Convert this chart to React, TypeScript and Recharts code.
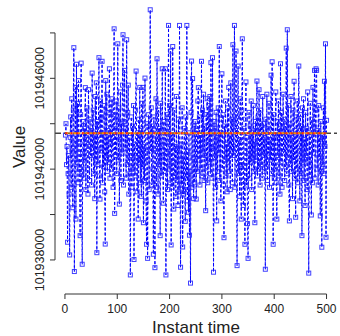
import { LineChart, Line, XAxis, YAxis, ReferenceLine } from 'recharts'

// values, instants 1..500
const values1 = [
  101943500, 101944000, 101942200, 101943000, 101938780, 101941800, 101942600, 101940900, 101938220, 101943400,
  101944300, 101941200, 101945100, 101942800, 101940300, 101944600, 101947350, 101937490, 101943100, 101945600,
  101939800, 101946620, 101942300, 101944900, 101941400, 101945900, 101943200, 101942000, 101939070, 101944400,
  101946670, 101941900, 101937810, 101942700, 101944100, 101941600, 101943800, 101942400, 101945590, 101941100,
  101943300, 101944700, 101942000, 101940900, 101945500, 101943000, 101941500, 101944200, 101942600, 101943700,
  101941300, 101946230, 101942900, 101944600, 101941800, 101943500, 101940700, 101945200, 101942400, 101945800,
  101938320, 101944100, 101942200, 101943900, 101946910, 101941700, 101940680, 101945000, 101942800, 101944300,
  101946750, 101941400, 101943600, 101942100, 101944800, 101941000, 101938700, 101945900, 101942500, 101945300,
  101941900, 101943700, 101942300, 101944500, 101946420, 101941600, 101943200, 101944900, 101942000, 101945100,
  101943400, 101941200, 101944400, 101948180, 101940050, 101943800, 101942600, 101945000, 101941800, 101944200,
]
const values2 = [
  101947520, 101942400, 101944700, 101940460, 101943300, 101945400, 101941500, 101944000, 101942700, 101945700,
  101947920, 101941300, 101944100, 101946350, 101942900, 101943800, 101941600, 101947700, 101942200, 101944500,
  101945700, 101940900, 101943400, 101941800, 101937340, 101942600, 101944300, 101941200, 101943900, 101942000,
  101944800, 101938020, 101943100, 101941700, 101944600, 101946320, 101942500, 101941000, 101943600, 101939800,
  101944200, 101942300, 101945600, 101941400, 101943700, 101940800, 101944900, 101942100, 101945600, 101939640,
  101943000, 101941500, 101946010, 101942700, 101940600, 101938690, 101944000, 101938070, 101942400, 101944400,
  101941100, 101943500, 101949020, 101942800, 101944700, 101941300, 101943900, 101942000, 101938250, 101944300,
  101941600, 101937660, 101942900, 101945100, 101941200, 101946860, 101943300, 101940900, 101944600, 101942200,
  101943800, 101939070, 101944900, 101941700, 101943100, 101946420, 101942500, 101940500, 101944100, 101941900,
  101943600, 101946420, 101937340, 101942700, 101944400, 101941100, 101943200, 101948330, 101942000, 101944800,
]
const values3 = [
  101941400, 101947200, 101938660, 101943500, 101941200, 101947400, 101942300, 101940240, 101944600, 101941700,
  101943000, 101940800, 101945200, 101941500, 101942900, 101940400, 101944200, 101941000, 101948330, 101942400,
  101937680, 101943100, 101941300, 101944700, 101938570, 101942600, 101940900, 101943800, 101941100, 101939700,
  101944300, 101941600, 101948330, 101940600, 101942800, 101940100, 101943600, 101939090, 101941900, 101936980,
  101944500, 101946760, 101941200, 101945990, 101942500, 101940700, 101943900, 101941400, 101944100, 101942200,
  101940680, 101943700, 101941900, 101945000, 101945590, 101942400, 101944300, 101941300, 101943500, 101942000,
  101946750, 101941700, 101944600, 101942800, 101945300, 101941500, 101943900, 101942600, 101940170, 101944400,
  101942100, 101945100, 101941400, 101943200, 101944800, 101942300, 101945200, 101941800, 101946690, 101943000,
  101941600, 101946910, 101942900, 101937460, 101944100, 101942500, 101943800, 101941200, 101944500, 101939720,
  101943400, 101941900, 101944700, 101942700, 101947400, 101941500, 101943600, 101940600, 101944200, 101946200,
]
const values4 = [
  101942000, 101944400, 101941300, 101938980, 101943900, 101942400, 101945000, 101941700, 101943100, 101941000,
  101944700, 101942300, 101945600, 101941900, 101943500, 101941100, 101945800, 101942800, 101944200, 101941400,
  101947480, 101942600, 101944000, 101948330, 101941200, 101943700, 101947200, 101942900, 101937750, 101944300,
  101946540, 101941800, 101943300, 101940800, 101945100, 101942200, 101939800, 101944600, 101947740, 101941500,
  101940400, 101943800, 101942100, 101938690, 101944200, 101945840, 101941300, 101943400, 101939600, 101938070,
  101942700, 101944500, 101941600, 101943900, 101942300, 101945000, 101941100, 101943600, 101942500, 101944800,
  101941900, 101943200, 101939640, 101944100, 101942400, 101943700, 101945880, 101941700, 101944300, 101942000,
  101945500, 101942800, 101941300, 101944600, 101942200, 101943900, 101941600, 101945200, 101942600, 101944000,
  101941900, 101943400, 101937590, 101944200, 101942100, 101945300, 101941500, 101943800, 101942700, 101944900,
  101941200, 101943300, 101942400, 101946140, 101941800, 101946730, 101942900, 101938690, 101944400, 101941600,
]
const values5 = [
  101943500, 101942000, 101945400, 101941400, 101939800, 101944100, 101942600, 101945000, 101941700, 101943800,
  101940900, 101946640, 101942300, 101944500, 101941200, 101943600, 101945300, 101942700, 101944200, 101941500,
  101943900, 101942100, 101947330, 101941800, 101948140, 101942500, 101944800, 101941300, 101939720, 101944000,
  101942200, 101945200, 101941900, 101943400, 101940700, 101944600, 101942400, 101945870, 101941600, 101943700,
  101939880, 101944300, 101942000, 101945000, 101941400, 101943500, 101946540, 101942800, 101940600, 101944400,
  101941800, 101943900, 101939070, 101944700, 101942300, 101945100, 101941500, 101943300, 101940400, 101944500,
  101942600, 101943800, 101941100, 101945400, 101942400, 101937420, 101943600, 101941700, 101944900, 101942100,
  101939980, 101944200, 101941400, 101945600, 101942700, 101943900, 101946350, 101941600, 101944600, 101946420,
  101946350, 101942000, 101943700, 101941300, 101944800, 101942500, 101943400, 101939940, 101944100, 101941900,
  101938560, 101943500, 101942200, 101944700, 101941800, 101945870, 101943000, 101947520, 101939000, 101944150,
]

const meanLevel = 101943580
const xTicks = [0, 100, 200, 300, 400, 500]
const yTicks = [101938000, 101940000, 101942000, 101944000, 101946000, 101948000]
const yLabelled = [101938000, 101942000, 101946000]

const data = [...values1, ...values2, ...values3, ...values4, ...values5].map((v, i) => ({
  t: i + 1,
  value: v,
  mean: meanLevel,
}))

const font = '"Liberation Sans", Arial, sans-serif'
const Y_MIN = 101936500
const Y_MAX = 101949450
const X_DOMAIN: [number, number] = [-19, 520]

const SquareDot = (props: any) => {
  const { cx, cy, index } = props
  if (cx == null || cy == null) return null
  return (
    <rect
      key={`d${index}`}
      x={cx - 2}
      y={cy - 2}
      width={4}
      height={4}
      fill="none"
      stroke="#2020ff"
      strokeOpacity={0.85}
      strokeWidth={1}
    />
  )
}

const YTick = (props: any) => {
  const { x, y, payload } = props
  if (!yLabelled.includes(payload.value)) return null
  const bx = x - 3.5
  return (
    <text
      x={bx}
      y={y}
      transform={`rotate(-90 ${bx} ${y})`}
      textAnchor="middle"
      fontSize={12.5}
      fill="#222"
      fontFamily={font}
    >
      {payload.value}
    </text>
  )
}

export default function App() {
  return (
    <div style={{ position: 'absolute', left: 0, top: 0, width: 340, height: 336, background: '#fff' }}>
      <LineChart width={340} height={336} data={data} margin={{ top: 0, right: 3, left: 0, bottom: 0 }}>
        <XAxis
          dataKey="t"
          type="number"
          domain={X_DOMAIN}
          allowDataOverflow
          ticks={xTicks}
          axisLine={false}
          tickLine={{ stroke: '#333' }}
          tickSize={5}
          tickMargin={5}
          height={42}
          tick={{ fill: '#222', fontSize: 12, fontFamily: font }}
          label={{
            value: 'Instant time',
            position: 'insideBottom',
            offset: 3,
            fill: '#222',
            fontSize: 17,
            fontFamily: font,
          }}
        />
        <YAxis
          type="number"
          domain={[Y_MIN, Y_MAX]}
          allowDataOverflow
          ticks={yTicks}
          axisLine={false}
          tickLine={{ stroke: '#333' }}
          tickSize={5}
          width={55}
          tick={<YTick />}
          label={{
            position: 'center',
            content: (p: any) => {
              const vb = p.viewBox
              const cy = vb.y + vb.height / 2
              return (
                <text
                  x={24.5}
                  y={cy}
                  transform={`rotate(-90 24.5 ${cy})`}
                  textAnchor="middle"
                  fontSize={17}
                  fill="#222"
                  fontFamily={font}
                >
                  Value
                </text>
              )
            },
          }}
        />
        <ReferenceLine segment={[{ x: 0, y: Y_MIN }, { x: 500, y: Y_MIN }]} stroke="#333" ifOverflow="visible" />
        <ReferenceLine
          segment={[{ x: -19, y: yTicks[0] }, { x: -19, y: yTicks[yTicks.length - 1] }]}
          stroke="#333"
          ifOverflow="visible"
        />
        <Line
          dataKey="value"
          stroke="#0000ff"
          strokeWidth={1}
          strokeDasharray="3 2"
          dot={<SquareDot />}
          isAnimationActive={false}
        />
      </LineChart>

      {/* mean level drawn on a transparent overlay so it sits above the markers */}
      <div style={{ position: 'absolute', left: 0, top: 0 }}>
        <LineChart width={340} height={336} data={data} margin={{ top: 0, right: 3, left: 55, bottom: 42 }}>
          <XAxis dataKey="t" type="number" domain={X_DOMAIN} allowDataOverflow hide />
          <YAxis type="number" domain={[Y_MIN, Y_MAX]} allowDataOverflow hide />
          <ReferenceLine y={meanLevel} stroke="#444" strokeDasharray="6 3" strokeWidth={1.3} />
          <Line
            dataKey="mean"
            stroke="#ff8c00"
            strokeWidth={2.2}
            strokeDasharray="3 1"
            dot={false}
            activeDot={false}
            isAnimationActive={false}
          />
          <Line
            dataKey="mean"
            stroke="#ff1a1a"
            strokeWidth={2.2}
            strokeDasharray="1.5 4"
            dot={false}
            activeDot={false}
            isAnimationActive={false}
          />
        </LineChart>
      </div>
    </div>
  )
}
